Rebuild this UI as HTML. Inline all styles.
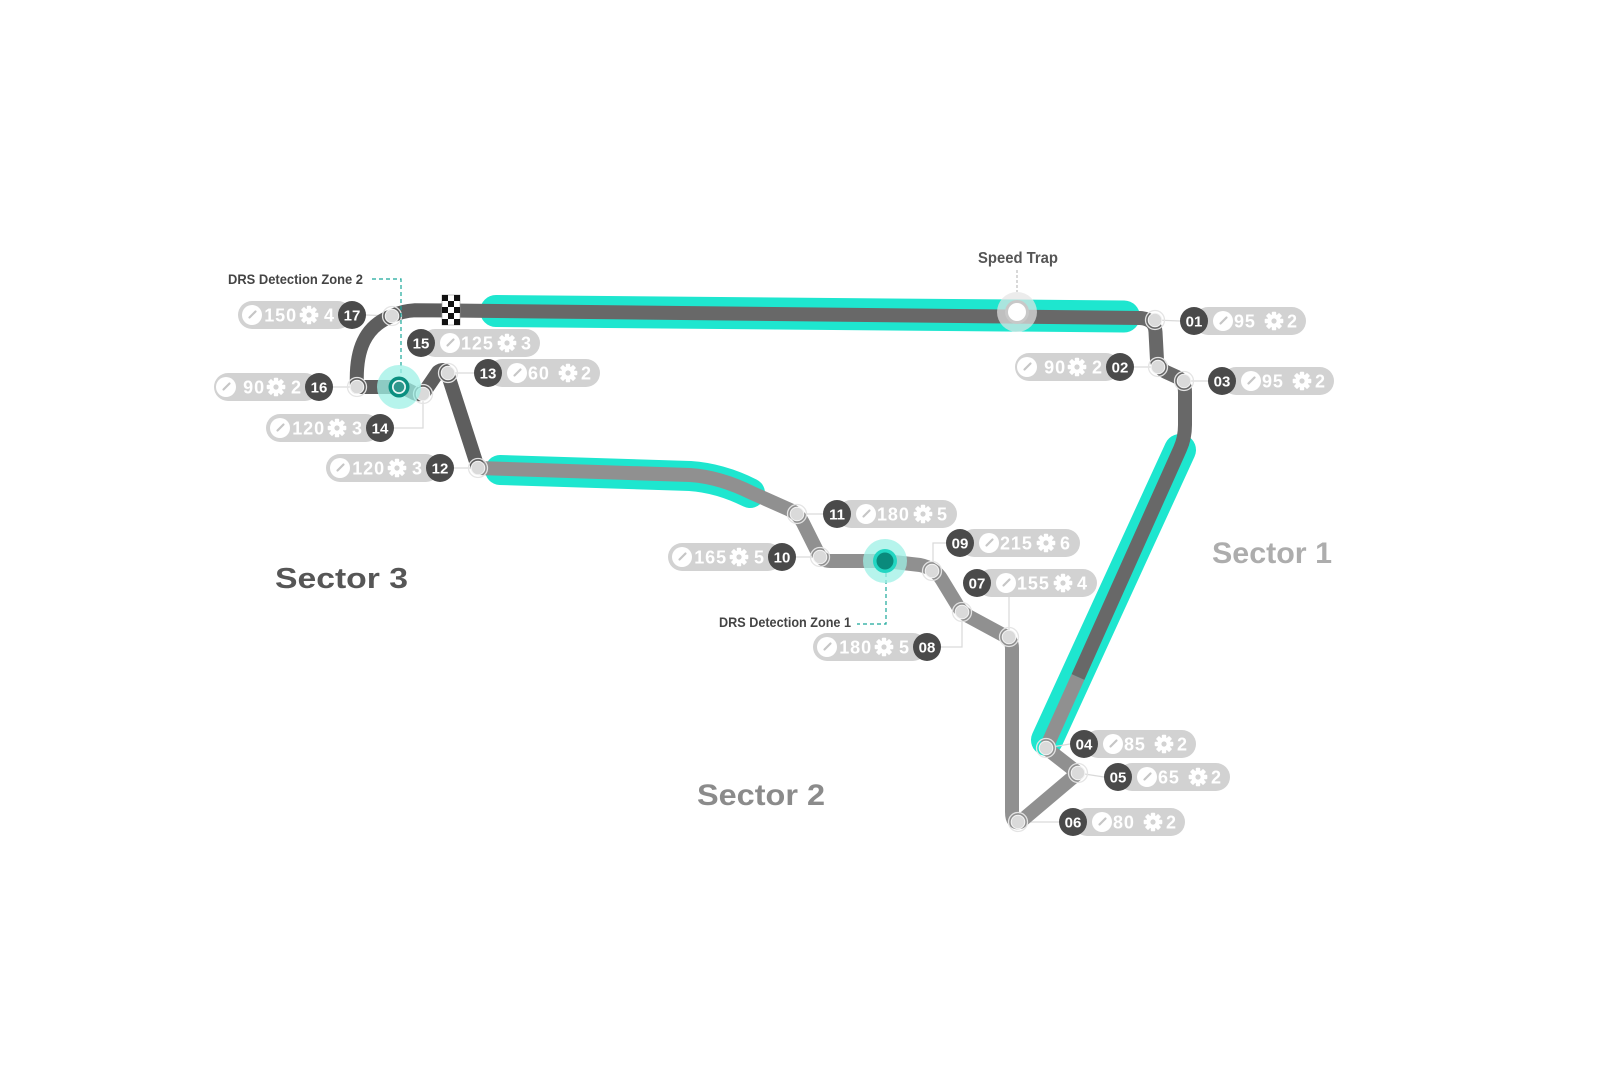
<!DOCTYPE html>
<html>
<head>
<meta charset="utf-8">
<style>
html,body{margin:0;padding:0;background:#fff;}
svg{display:block;}
text{font-family:"Liberation Sans",Arial,sans-serif;font-weight:bold;}
.sp{font-size:18px;fill:#fff;letter-spacing:0.9px;}
.bn{font-size:15px;fill:#fff;text-anchor:middle;}
.pill{fill:#d2d2d2;}
.bd{fill:#4a4a4a;}
.cn{stroke:#d9d9d9;stroke-width:1.2;fill:none;}
</style>
</head>
<body>
<svg width="1600" height="1066" viewBox="0 0 1600 1066" xmlns="http://www.w3.org/2000/svg">
<defs>
  <g id="gear">
    <circle r="6.6" fill="#fff"/>
    <rect x="-2.2" y="-9.3" width="4.4" height="5" rx="0.8" fill="#fff"/>
    <rect x="-2.2" y="-9.3" width="4.4" height="5" rx="0.8" fill="#fff" transform="rotate(45)"/>
    <rect x="-2.2" y="-9.3" width="4.4" height="5" rx="0.8" fill="#fff" transform="rotate(90)"/>
    <rect x="-2.2" y="-9.3" width="4.4" height="5" rx="0.8" fill="#fff" transform="rotate(135)"/>
    <rect x="-2.2" y="-9.3" width="4.4" height="5" rx="0.8" fill="#fff" transform="rotate(180)"/>
    <rect x="-2.2" y="-9.3" width="4.4" height="5" rx="0.8" fill="#fff" transform="rotate(225)"/>
    <rect x="-2.2" y="-9.3" width="4.4" height="5" rx="0.8" fill="#fff" transform="rotate(270)"/>
    <rect x="-2.2" y="-9.3" width="4.4" height="5" rx="0.8" fill="#fff" transform="rotate(315)"/>
    <circle r="2.6" fill="#d2d2d2"/>
  </g>
  <g id="gauge">
    <circle r="10" fill="#fff"/>
    <path d="M-2.5 2.5 L3.5 -3.5" stroke="#c6c6c6" stroke-width="2.2" stroke-linecap="round"/>
  </g>
  <g id="node">
    <circle r="9.5" fill="none" stroke="#e4e4e4" stroke-width="1.3"/>
    <circle r="6.8" fill="#dadada" stroke="#f4f4f4" stroke-width="1"/>
  </g>
</defs>

<rect width="1600" height="1066" fill="#fff"/>

<!-- DRS zones (cyan) -->
<g fill="none" stroke="#1ee6cf" stroke-linecap="round" stroke-linejoin="round">
  <path d="M496 311 L1124 316.5" stroke-width="32"/>
  <path d="M500 470 L690 476 Q720 478 750 493" stroke-width="30"/>
  <path d="M1180 450 L1047 740" stroke-width="32"/>
</g>

<!-- Connectors -->
<g class="cn">
  <line x1="1155" y1="320" x2="1180" y2="321"/>
  <line x1="1158" y1="367" x2="1134" y2="367"/>
  <line x1="1184" y1="381" x2="1208" y2="381"/>
  <line x1="1046" y1="748" x2="1070" y2="744"/>
  <line x1="1078" y1="773" x2="1104" y2="777"/>
  <line x1="1018" y1="822" x2="1059" y2="822"/>
  <line x1="1009" y1="637" x2="1009" y2="597"/>
  <polyline points="962,612 962,647 941,647"/>
  <polyline points="933,571 933,543 946,543"/>
  <line x1="820" y1="557" x2="796" y2="557"/>
  <line x1="797" y1="514" x2="823" y2="514"/>
  <line x1="478" y1="468" x2="454" y2="468"/>
  <line x1="448" y1="373" x2="474" y2="373"/>
  <polyline points="423,394 423,428 394,428"/>
  <line x1="357" y1="387" x2="333" y2="387"/>
  <line x1="392" y1="316" x2="366" y2="315"/>
</g>

<!-- Track -->
<g fill="none" stroke-width="14" stroke-linejoin="round" stroke-linecap="butt">
  <path stroke="#909090" d="M1078 677 L1046 748 L1078 773 L1020 822 Q1012 824 1012 812 L1012 648 Q1012 640 1005 636 L968 616 Q960 611 956 603 L942 580 Q935 568 920 565 L885 561 L830 561 Q822 561 818 553 L803 523 Q798 513 788 509 L752 493 Q720 477 690 475 L478 468"/>
  <path stroke="#5e5e5e" d="M478 468 L448 375 Q445 367 438 372 L425 391 Q420 397 412 392 L402 387 L357 387 C355 350 365 326 392 316 Q402 311 415 310.3 L451 310.5"/>
  <path stroke="#686868" d="M451 310.5 L1140 318 Q1155 319 1155.5 332 L1157 360 Q1158 368 1166 372 L1177 377 Q1185 381 1185 392 L1185 425 Q1185 438 1180 449 L1078 677"/>
</g>

<!-- Finish flag -->
<g>
  <rect x="442" y="295" width="18" height="30" fill="#fff" stroke="#999" stroke-width="0.6"/>
  <rect x="442" y="295" width="6" height="6" fill="#111"/>
  <rect x="454" y="295" width="6" height="6" fill="#111"/>
  <rect x="448" y="301" width="6" height="6" fill="#111"/>
  <rect x="442" y="307" width="6" height="6" fill="#111"/>
  <rect x="454" y="307" width="6" height="6" fill="#111"/>
  <rect x="448" y="313" width="6" height="6" fill="#111"/>
  <rect x="442" y="319" width="6" height="6" fill="#111"/>
  <rect x="454" y="319" width="6" height="6" fill="#111"/>
</g>

<!-- Nodes -->
<use href="#node" x="1155" y="320"/>
<use href="#node" x="1158" y="367"/>
<use href="#node" x="1184" y="381"/>
<use href="#node" x="1046" y="748"/>
<use href="#node" x="1078" y="773"/>
<use href="#node" x="1018" y="822"/>
<use href="#node" x="1009" y="637"/>
<use href="#node" x="962" y="612"/>
<use href="#node" x="932" y="571"/>
<use href="#node" x="820" y="557"/>
<use href="#node" x="797" y="514"/>
<use href="#node" x="478" y="468"/>
<use href="#node" x="448" y="373"/>
<use href="#node" x="423" y="394"/>
<use href="#node" x="357" y="387"/>
<use href="#node" x="392" y="316"/>

<!-- Speed trap -->
<line x1="1017" y1="270" x2="1017" y2="292" stroke="#bdbdbd" stroke-width="1.2" stroke-dasharray="3,2"/>
<circle cx="1017" cy="312" r="20" fill="#e4e4e4" opacity="0.7"/>
<circle cx="1017" cy="312" r="10.5" fill="#fff" stroke="#c8c8c8" stroke-width="3"/>
<text x="978" y="263" font-size="16" fill="#555" textLength="80" lengthAdjust="spacingAndGlyphs">Speed Trap</text>

<!-- DRS detection zone 2 -->
<polyline points="372,279 401,279 401,376" fill="none" stroke="#1aa89a" stroke-width="1.2" stroke-dasharray="4,3"/>
<circle cx="399" cy="387" r="22" fill="#9ef0e6" opacity="0.75"/>
<circle cx="399" cy="387" r="10.5" fill="#0a8f80"/>
<circle cx="399" cy="387" r="7" fill="#e6f7f5"/>
<circle cx="399" cy="387" r="5.3" fill="#2f968c"/>
<text x="228" y="284" font-size="14" fill="#444" textLength="135" lengthAdjust="spacingAndGlyphs">DRS Detection Zone 2</text>

<!-- DRS detection zone 1 -->
<polyline points="886,573 886,624 857,624" fill="none" stroke="#1aa89a" stroke-width="1.2" stroke-dasharray="4,3"/>
<circle cx="885" cy="561" r="22" fill="#9ef0e6" opacity="0.75"/>
<circle cx="885" cy="561" r="12" fill="#22d6c2"/>
<circle cx="885" cy="561" r="8.5" fill="#0a8a7c"/>
<text x="719" y="627" font-size="14" fill="#444" textLength="132" lengthAdjust="spacingAndGlyphs">DRS Detection Zone 1</text>

<!-- Sector labels -->
<text x="275" y="588" font-size="29" fill="#565656" textLength="133" lengthAdjust="spacingAndGlyphs">Sector 3</text>
<text x="697" y="805" font-size="30" fill="#8b8b8b" textLength="128" lengthAdjust="spacingAndGlyphs">Sector 2</text>
<text x="1212" y="563" font-size="30" fill="#adadad" textLength="120" lengthAdjust="spacingAndGlyphs">Sector 1</text>

<!-- 01 -->
<rect class="pill" x="1194" y="307" width="112" height="28" rx="14"/>
<circle class="bd" cx="1194" cy="321" r="14"/>
<text class="bn" x="1194" y="326.4">01</text>
<use href="#gauge" x="1223" y="321"/>
<text class="sp" x="1234" y="327.5">95</text>
<use href="#gear" x="1274" y="321"/>
<text class="sp" x="1287" y="327.5">2</text>

<!-- 03 -->
<rect class="pill" x="1222" y="367" width="112" height="28" rx="14"/>
<circle class="bd" cx="1222" cy="381" r="14"/>
<text class="bn" x="1222" y="386.4">03</text>
<use href="#gauge" x="1251" y="381"/>
<text class="sp" x="1262" y="387.5">95</text>
<use href="#gear" x="1302" y="381"/>
<text class="sp" x="1315" y="387.5">2</text>

<!-- 04 -->
<rect class="pill" x="1084" y="730" width="112" height="28" rx="14"/>
<circle class="bd" cx="1084" cy="744" r="14"/>
<text class="bn" x="1084" y="749.4">04</text>
<use href="#gauge" x="1113" y="744"/>
<text class="sp" x="1124" y="750.5">85</text>
<use href="#gear" x="1164" y="744"/>
<text class="sp" x="1177" y="750.5">2</text>

<!-- 05 -->
<rect class="pill" x="1118" y="763" width="112" height="28" rx="14"/>
<circle class="bd" cx="1118" cy="777" r="14"/>
<text class="bn" x="1118" y="782.4">05</text>
<use href="#gauge" x="1147" y="777"/>
<text class="sp" x="1158" y="783.5">65</text>
<use href="#gear" x="1198" y="777"/>
<text class="sp" x="1211" y="783.5">2</text>

<!-- 06 -->
<rect class="pill" x="1073" y="808" width="112" height="28" rx="14"/>
<circle class="bd" cx="1073" cy="822" r="14"/>
<text class="bn" x="1073" y="827.4">06</text>
<use href="#gauge" x="1102" y="822"/>
<text class="sp" x="1113" y="828.5">80</text>
<use href="#gear" x="1153" y="822"/>
<text class="sp" x="1166" y="828.5">2</text>

<!-- 07 -->
<rect class="pill" x="977" y="569" width="120" height="28" rx="14"/>
<circle class="bd" cx="977" cy="583" r="14"/>
<text class="bn" x="977" y="588.4">07</text>
<use href="#gauge" x="1006" y="583"/>
<text class="sp" x="1017" y="589.5">155</text>
<use href="#gear" x="1063" y="583"/>
<text class="sp" x="1077" y="589.5">4</text>

<!-- 09 -->
<rect class="pill" x="960" y="529" width="120" height="28" rx="14"/>
<circle class="bd" cx="960" cy="543" r="14"/>
<text class="bn" x="960" y="548.4">09</text>
<use href="#gauge" x="989" y="543"/>
<text class="sp" x="1000" y="549.5">215</text>
<use href="#gear" x="1046" y="543"/>
<text class="sp" x="1060" y="549.5">6</text>

<!-- 11 -->
<rect class="pill" x="837" y="500" width="120" height="28" rx="14"/>
<circle class="bd" cx="837" cy="514" r="14"/>
<text class="bn" x="837" y="519.4">11</text>
<use href="#gauge" x="866" y="514"/>
<text class="sp" x="877" y="520.5">180</text>
<use href="#gear" x="923" y="514"/>
<text class="sp" x="937" y="520.5">5</text>

<!-- 13 -->
<rect class="pill" x="488" y="359" width="112" height="28" rx="14"/>
<circle class="bd" cx="488" cy="373" r="14"/>
<text class="bn" x="488" y="378.4">13</text>
<use href="#gauge" x="517" y="373"/>
<text class="sp" x="528" y="379.5">60</text>
<use href="#gear" x="568" y="373"/>
<text class="sp" x="581" y="379.5">2</text>

<!-- 15 -->
<rect class="pill" x="421" y="329" width="119" height="28" rx="14"/>
<circle class="bd" cx="421" cy="343" r="14"/>
<text class="bn" x="421" y="348.4">15</text>
<use href="#gauge" x="450" y="343"/>
<text class="sp" x="461" y="349.5">125</text>
<use href="#gear" x="507" y="343"/>
<text class="sp" x="521" y="349.5">3</text>

<!-- 02 -->
<rect class="pill" x="1015" y="353" width="105" height="28" rx="14"/>
<use href="#gauge" x="1027" y="367"/>
<text class="sp" x="1066" y="373.5" text-anchor="end">90</text>
<use href="#gear" x="1077" y="367"/>
<text class="sp" x="1092" y="373.5">2</text>
<circle class="bd" cx="1120" cy="367" r="14"/>
<text class="bn" x="1120" y="372.4">02</text>

<!-- 08 -->
<rect class="pill" x="813" y="633" width="114" height="28" rx="14"/>
<use href="#gauge" x="827" y="647"/>
<text class="sp" x="872" y="653.5" text-anchor="end">180</text>
<use href="#gear" x="884" y="647"/>
<text class="sp" x="899" y="653.5">5</text>
<circle class="bd" cx="927" cy="647" r="14"/>
<text class="bn" x="927" y="652.4">08</text>

<!-- 10 -->
<rect class="pill" x="668" y="543" width="114" height="28" rx="14"/>
<use href="#gauge" x="682" y="557"/>
<text class="sp" x="727" y="563.5" text-anchor="end">165</text>
<use href="#gear" x="739" y="557"/>
<text class="sp" x="754" y="563.5">5</text>
<circle class="bd" cx="782" cy="557" r="14"/>
<text class="bn" x="782" y="562.4">10</text>

<!-- 12 -->
<rect class="pill" x="326" y="454" width="114" height="28" rx="14"/>
<use href="#gauge" x="340" y="468"/>
<text class="sp" x="385" y="474.5" text-anchor="end">120</text>
<use href="#gear" x="397" y="468"/>
<text class="sp" x="412" y="474.5">3</text>
<circle class="bd" cx="440" cy="468" r="14"/>
<text class="bn" x="440" y="473.4">12</text>

<!-- 14 -->
<rect class="pill" x="266" y="414" width="114" height="28" rx="14"/>
<use href="#gauge" x="280" y="428"/>
<text class="sp" x="325" y="434.5" text-anchor="end">120</text>
<use href="#gear" x="337" y="428"/>
<text class="sp" x="352" y="434.5">3</text>
<circle class="bd" cx="380" cy="428" r="14"/>
<text class="bn" x="380" y="433.4">14</text>

<!-- 16 -->
<rect class="pill" x="214" y="373" width="105" height="28" rx="14"/>
<use href="#gauge" x="226" y="387"/>
<text class="sp" x="265" y="393.5" text-anchor="end">90</text>
<use href="#gear" x="276" y="387"/>
<text class="sp" x="291" y="393.5">2</text>
<circle class="bd" cx="319" cy="387" r="14"/>
<text class="bn" x="319" y="392.4">16</text>

<!-- 17 -->
<rect class="pill" x="238" y="301" width="114" height="28" rx="14"/>
<use href="#gauge" x="252" y="315"/>
<text class="sp" x="297" y="321.5" text-anchor="end">150</text>
<use href="#gear" x="309" y="315"/>
<text class="sp" x="324" y="321.5">4</text>
<circle class="bd" cx="352" cy="315" r="14"/>
<text class="bn" x="352" y="320.4">17</text>

</svg>
</body>
</html>
